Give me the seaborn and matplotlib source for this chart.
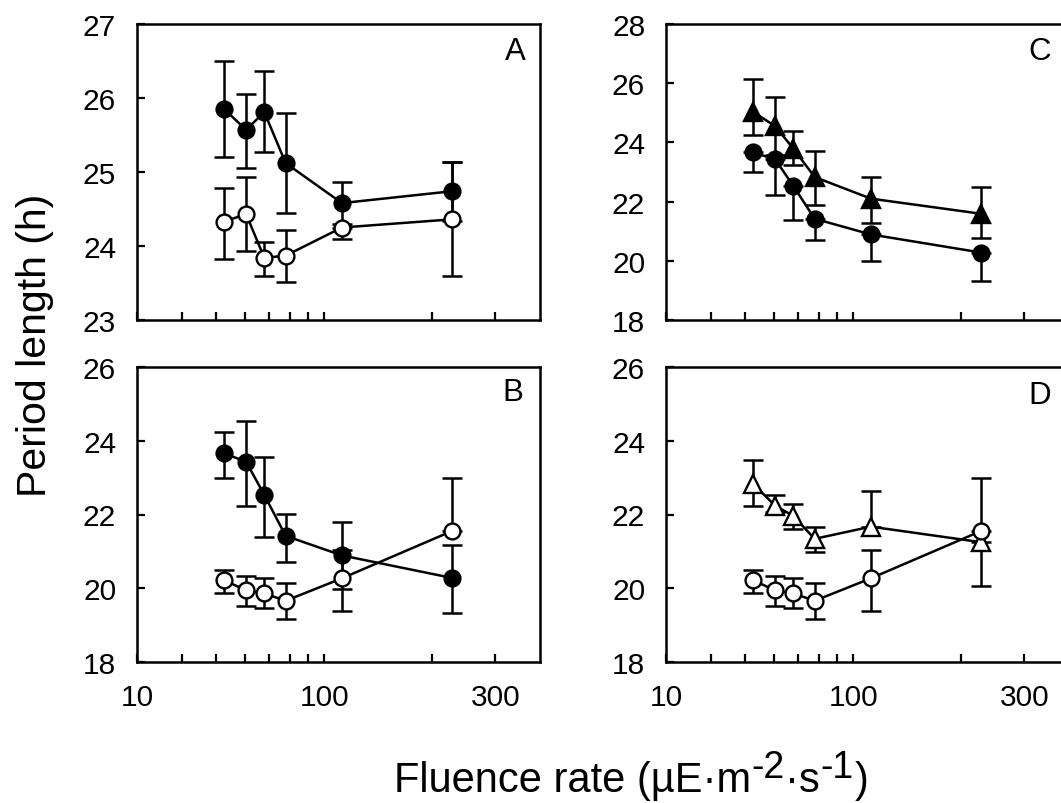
import matplotlib
matplotlib.use("Agg")
import matplotlib.pyplot as plt
import matplotlib.ticker as mticker
import numpy as np
import pandas as pd
import seaborn as sns

# ---------------- data ----------------
fluence = [52.5, 60.5, 68, 78, 112, 227]
xtick_values = [30, 100, 300]
xtick_labels = ["10", "100", "300"]
xminor_values = [40, 50, 60, 70, 80, 90, 200]

# Panel A
a_filled = [25.85, 25.57, 25.81, 25.12, 24.58, 24.74]
a_filled_lo = [0.65, 0.52, 0.54, 0.67, 0.28, 0.40]
a_filled_hi = [0.65, 0.48, 0.55, 0.68, 0.28, 0.40]
a_open = [24.33, 24.43, 23.84, 23.87, 24.25, 24.36]
a_open_lo = [0.50, 0.50, 0.25, 0.36, 0.15, 0.77]
a_open_hi = [0.46, 0.50, 0.22, 0.34, 0.00, 0.77]

# Panels B / C filled circles
bc_filled = [23.66, 23.43, 22.53, 21.42, 20.89, 20.28]
bc_filled_lo = [0.66, 1.20, 1.14, 0.72, 0.90, 0.95]
bc_filled_hi = [0.59, 1.10, 1.02, 0.59, 0.90, 0.88]
c_filled_hi = [0.00, 0.00, 0.00, 0.00, 0.00, 0.00]

# Panels B / D open circles
bd_open = [20.22, 19.94, 19.86, 19.66, 20.27, 21.55]
bd_open_lo = [0.35, 0.41, 0.40, 0.49, 0.88, 0.00]
bd_open_hi = [0.28, 0.40, 0.41, 0.48, 0.76, 1.44]

# Panel C filled triangles
c_tri = [25.03, 24.55, 23.79, 22.83, 22.10, 21.59]
c_tri_lo = [0.79, 0.97, 0.56, 0.96, 0.82, 0.82]
c_tri_hi = [1.11, 0.97, 0.60, 0.88, 0.73, 0.90]

# Panel D open triangles
d_tri = [22.83, 22.24, 21.96, 21.34, 21.67, 21.25]
d_tri_lo = [0.60, 0.17, 0.35, 0.36, 0.00, 1.19]
d_tri_hi = [0.65, 0.28, 0.33, 0.32, 0.98, 0.00]

panel_letters = ["A", "B", "C", "D"]
ylims = [(23, 27), (18, 26), (18, 28), (18, 26)]
yticks = [[23, 24, 25, 26, 27], [18, 20, 22, 24, 26],
          [18, 20, 22, 24, 26, 28], [18, 20, 22, 24, 26]]

ylabel_text = "Period length (h)"
# x label pieces: (text, raised?)
xlabel_pieces = [("Fluence rate (\u00b5E\u00b7m", False), ("-2", True),
                 ("\u00b7s", False), ("-1", True), (")", False)]

# ---------------- style ----------------
sns.set_theme(style="ticks")
plt.rcParams["font.family"] = ["Liberation Sans", "DejaVu Sans"]
plt.rcParams["text.color"] = "black"
plt.rcParams["axes.labelcolor"] = "black"
plt.rcParams["xtick.color"] = "black"
plt.rcParams["ytick.color"] = "black"
plt.rcParams["axes.edgecolor"] = "black"

fig = plt.figure(figsize=(10.61, 8.04), dpi=100)
W, H = 1061, 804


def axes_px(left, top, right, bottom):
    return fig.add_axes([left / W, 1 - bottom / H, (right - left) / W, (bottom - top) / H])


axA = axes_px(137, 25, 540, 321)
axB = axes_px(137, 368, 540, 663)
axC = axes_px(666, 25, 1069, 321)
axD = axes_px(666, 368, 1069, 663)
axes = [axA, axB, axC, axD]

LW = 1.8


def series(ax, y, lo, hi, marker, filled, ms):
    ax.errorbar(fluence, y, yerr=[lo, hi], fmt="none", ecolor="black",
                elinewidth=LW, capsize=7.2, capthick=LW, zorder=2)
    df = pd.DataFrame({"fluence": fluence, "period": y})
    sns.lineplot(data=df, x="fluence", y="period", ax=ax, color="black",
                 linewidth=LW, marker=marker, markersize=ms,
                 markerfacecolor="black" if filled else "white",
                 markeredgecolor="black", markeredgewidth=1.7,
                 estimator=None, errorbar=None, sort=False, zorder=3)


for ax in axes:
    ax.set_xscale("log")

CS, TS = 11.4, 12.5
series(axA, a_filled, a_filled_lo, a_filled_hi, "o", True, CS)
series(axA, a_open, a_open_lo, a_open_hi, "o", False, CS)

series(axB, bc_filled, bc_filled_lo, bc_filled_hi, "o", True, CS)
series(axB, bd_open, bd_open_lo, bd_open_hi, "o", False, CS)

series(axC, c_tri, c_tri_lo, c_tri_hi, "^", True, TS)
series(axC, bc_filled, bc_filled_lo, c_filled_hi, "o", True, CS)

series(axD, d_tri, d_tri_lo, d_tri_hi, "^", False, TS)
series(axD, bd_open, bd_open_lo, bd_open_hi, "o", False, CS)

letter_pos = [(0.938, 0.91), (0.932, 0.915), (0.928, 0.91), (0.928, 0.905)]
for ax, lim, yt, letter, lp in zip(axes, ylims, yticks, panel_letters, letter_pos):
    ax.set_xlim(30, 400)
    ax.set_ylim(*lim)
    ax.set_yticks(yt)
    ax.set_yticklabels([str(v) for v in yt])
    ax.set_xticks(xtick_values)
    ax.set_xticks(xminor_values, minor=True)
    ax.xaxis.set_minor_formatter(mticker.NullFormatter())
    ax.set_xlabel("")
    ax.set_ylabel("")
    ax.set_facecolor("white")
    for sp in ax.spines.values():
        sp.set_visible(True)
        sp.set_linewidth(1.8)
        sp.set_color("black")
    ax.tick_params(axis="both", which="both", direction="in", length=6,
                   width=1.6, color="black", labelcolor="black",
                   labelsize=21.5, pad=15, top=False, right=False)
    ax.tick_params(axis="y", which="minor", left=False)
    ax.text(lp[0], lp[1], letter, transform=ax.transAxes, ha="center",
            va="center", fontsize=22.5, color="black")

for ax in [axA, axC]:
    ax.set_xticklabels([])
for ax in [axB, axD]:
    ax.set_xticklabels(xtick_labels)

fig.text(35 / W, 1 - 345 / H, ylabel_text, rotation=90,
         ha="center", va="center", fontsize=29.5, color="black")

# x label assembled from pieces so that the exponents keep a plain hyphen
fig.canvas.draw()
renderer = fig.canvas.get_renderer()
x_px = 394.0
base_px = H - 792.0
for txt, raised in xlabel_pieces:
    size = 27 if raised else 30
    y_px = base_px + (14 if raised else 0)
    t = fig.text(x_px / W, y_px / H, txt, ha="left", va="baseline",
                 fontsize=size, color="black")
    bb = t.get_window_extent(renderer=renderer)
    x_px = bb.x1 + (1 if raised else 0)

fig.savefig("out.png", dpi=100, facecolor="white")
